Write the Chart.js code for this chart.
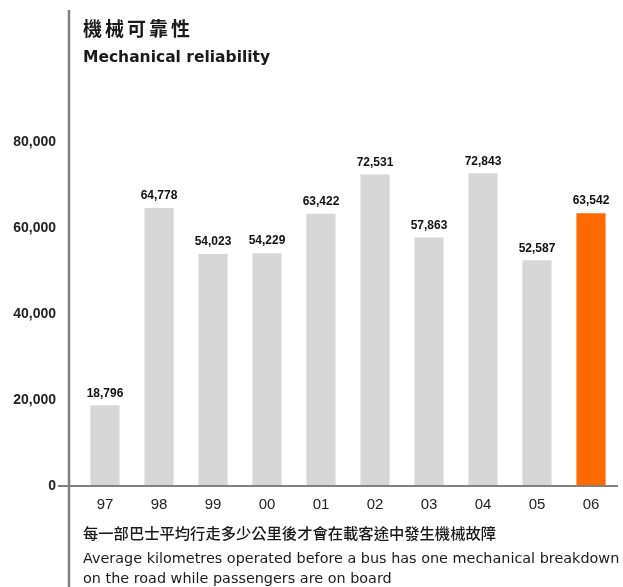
<!DOCTYPE html>
<html>
<head>
<meta charset="utf-8">
<script src="https://cdn.jsdelivr.net/npm/chart.js@4"></script>
<style>
  body { margin: 0; background: #fff; }
  #wrap { position: relative; width: 623px; height: 587px; overflow: hidden; }
  #chart { position: absolute; left: 0; top: 0; }
  .txt { position: absolute; left: 83px; color: #1a1a1a; white-space: nowrap; font-family: "DejaVu Sans", sans-serif; }
  .zh { font-family: "Noto Sans CJK TC", sans-serif; }
</style>
</head>
<body>
<div id="wrap">
  <canvas id="chart" width="623" height="587"></canvas>
  <div class="txt zh" style="top:16px;line-height:24px;font-size:19px;font-weight:bold;letter-spacing:3px;">機械可靠性</div>
  <div class="txt" style="top:46px;line-height:22px;font-size:15.5px;font-weight:bold;">Mechanical reliability</div>
  <div class="txt zh" style="top:521px;line-height:22px;font-size:15.3px;font-weight:500;">每一部巴士平均行走多少公里後才會在載客途中發生機械故障</div>
  <div class="txt" style="top:547px;line-height:22px;font-size:14.4px;">Average kilometres operated before a bus has one mechanical breakdown</div>
  <div class="txt" style="top:567px;line-height:22px;font-size:14.4px;">on the road while passengers are on board</div>
</div>
<script>
const years = ["97", "98", "99", "00", "01", "02", "03", "04", "05", "06"];
const kmPerBreakdown = [18796, 64778, 54023, 54229, 63422, 72531, 57863, 72843, 52587, 63542];
const tickValues = [0, 20000, 40000, 60000, 80000];

const barColors = years.map((y, i) => i === years.length - 1 ? "#ff6a00" : "#d6d6d6");
const axisX = 69;

// axis rules (left rule runs the full height) and value labels above bars
const extras = {
  id: "extras",
  afterDatasetsDraw(chart) {
    const ctx = chart.ctx;
    const area = chart.chartArea;
    ctx.save();
    ctx.strokeStyle = "#808080";
    ctx.lineWidth = 2.5;
    ctx.beginPath();
    ctx.moveTo(axisX, 10);
    ctx.lineTo(axisX, 587);
    ctx.stroke();
    ctx.lineWidth = 2;
    ctx.beginPath();
    ctx.moveTo(axisX - 11, area.bottom);
    ctx.lineTo(area.right, area.bottom);
    ctx.stroke();

    ctx.fillStyle = "#111";
    ctx.font = "bold 12px 'Liberation Sans', Arial, sans-serif";
    ctx.textAlign = "center";
    ctx.textBaseline = "bottom";
    chart.getDatasetMeta(0).data.forEach((bar, i) => {
      ctx.fillText(kmPerBreakdown[i].toLocaleString("en-US"), bar.x, bar.y - 6);
    });
    ctx.restore();
  }
};

new Chart(document.getElementById("chart").getContext("2d"), {
  type: "bar",
  data: {
    labels: years,
    datasets: [{
      data: kmPerBreakdown,
      backgroundColor: barColors,
      barPercentage: 0.54,
      categoryPercentage: 1
    }]
  },
  options: {
    responsive: false,
    animation: false,
    layout: { padding: { top: 91, right: 5, bottom: 71, left: 0 } },
    plugins: {
      legend: { display: false },
      tooltip: { enabled: false }
    },
    scales: {
      x: {
        grid: { display: false },
        border: { display: false },
        ticks: {
          color: "#222",
          padding: 2,
          font: { family: "'Liberation Sans', Arial, sans-serif", size: 15 }
        }
      },
      y: {
        min: 0,
        max: 92000,
        afterFit(scale) { scale.width = 78; },
        afterBuildTicks(scale) { scale.ticks = tickValues.map(v => ({ value: v })); },
        grid: { display: false },
        border: { display: false },
        ticks: {
          color: "#222",
          padding: 14,
          font: { family: "'Liberation Sans', Arial, sans-serif", size: 14, weight: "bold" },
          callback: v => v.toLocaleString("en-US")
        }
      }
    }
  },
  plugins: [extras]
});
</script>
</body>
</html>
